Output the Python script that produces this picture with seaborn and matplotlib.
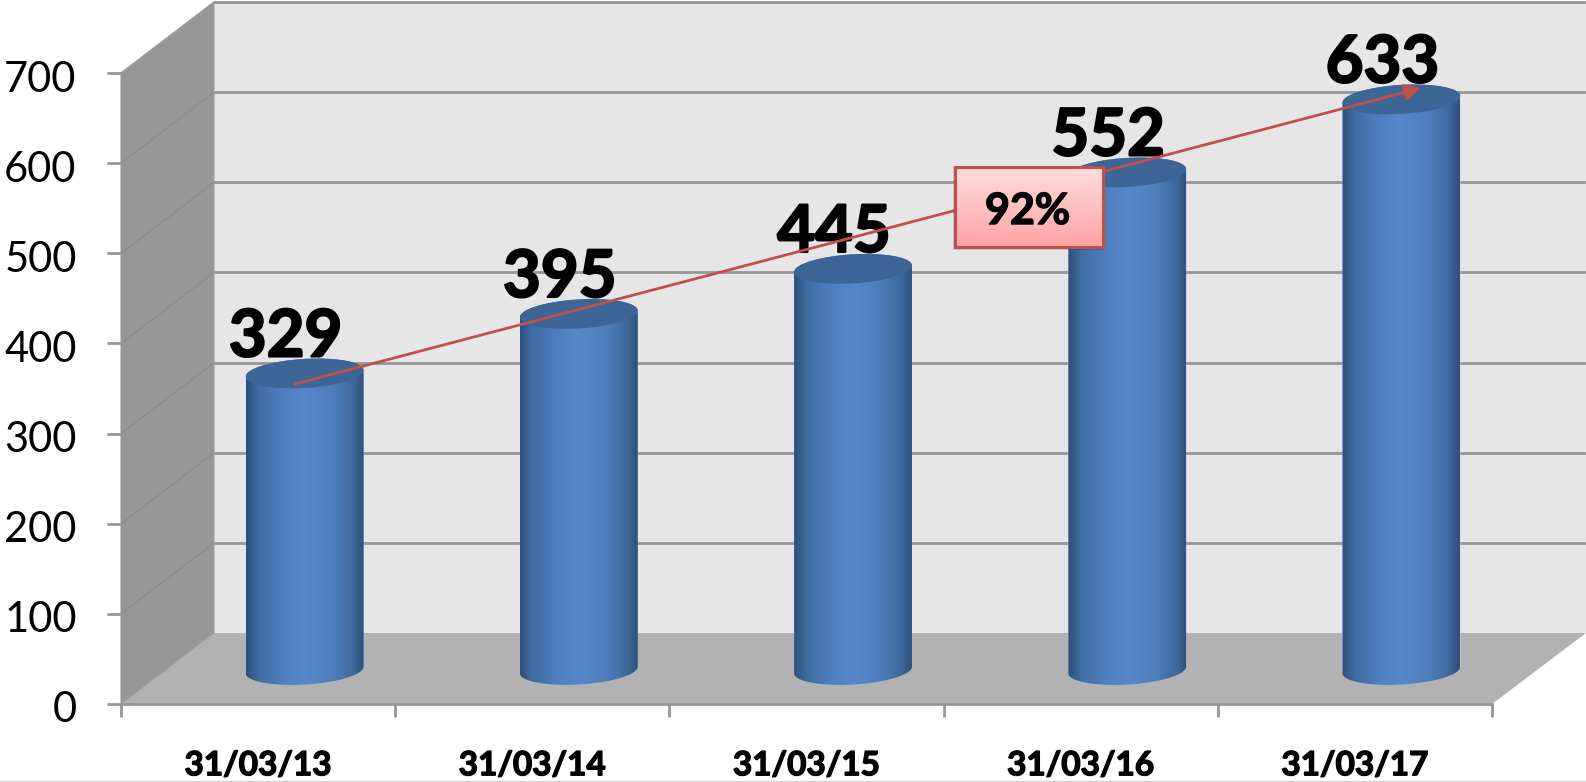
import numpy as np
import matplotlib
matplotlib.use('Agg')
import matplotlib.pyplot as plt
import matplotlib.patheffects as pe
import seaborn as sns
from matplotlib.colors import LinearSegmentedColormap
from matplotlib.patches import Ellipse, Polygon, Rectangle
from matplotlib.path import Path
from matplotlib.transforms import Affine2D, IdentityTransform

# chart data
dates = ['31/03/13', '31/03/14', '31/03/15', '31/03/16', '31/03/17']
values = [329, 395, 445, 552, 633]
y_ticks = [0, 100, 200, 300, 400, 500, 600, 700]
growth = '92%'

W, H = 1586, 782
GRID = '#969696'
RED = '#c0504d'

sns.set_theme(style='white')
plt.rcParams['font.family'] = ['Lato', 'DejaVu Sans']

fig = plt.figure(figsize=(W / 100, H / 100), dpi=100)
ax = fig.add_axes([121 / W, (H - 704) / H, 1371 / W, 631 / H])
ax.patch.set_visible(False)


def px(x, y):
    # reference pixels (origin top left) to display coordinates
    return x, H - y


def deco(points, **kw):
    ax.add_patch(Polygon([px(*p) for p in points], transform=IdentityTransform(),
                         clip_on=False, **kw))


# heavier strokes, the original font is bolder than Lato Bold
heavy = [pe.withStroke(linewidth=1.0, foreground='black')]

# the 3d box behind the bars: side wall, floor, back wall
deco([(121, 73), (214, 2), (214, 633), (121, 704)], fc='#979797', ec='none', zorder=0)
deco([(214, 2), (1586, 2), (1586, 633), (214, 633)], fc='#e6e6e6', ec='none', zorder=0)
deco([(121, 704), (214, 633), (1586, 633), (1492, 704)], fc='#b2b2b2', ec='none', zorder=0)

sns.barplot(x=dates, y=values, color='#4f81bd', width=118 / 274.2, saturation=1, ax=ax, zorder=3)
ax.set_xlim(-0.5, 4.5)
ax.set_ylim(0, 700)

back = ax.transData + Affine2D().translate(93, 71)
mid = ax.transData + Affine2D().translate(46.5, 34)

# gridlines on the back wall and side wall
for t in y_ticks[1:]:
    ax.plot([-0.5, 4.5], [t, t], color=GRID, lw=2.0, transform=back, clip_on=False, zorder=1)
for t in y_ticks[1:]:
    x0, y0 = ax.transData.transform((-0.5, t))
    ax.plot([x0, x0 + 93], [y0, y0 + 71], color='#8a8a8a', lw=0.8,
            transform=IdentityTransform(), clip_on=False, zorder=1)
deco([(121, 704), (214, 633), (214, 2), (121, 73)], fc='none', ec='#a0a0a0', lw=0.8, zorder=1)

# cylinders
body_cmap = LinearSegmentedColormap.from_list('body', [
    (0.0, '#2d4f7c'), (0.1, '#3f6ba2'), (0.28, '#4c7dba'), (0.5, '#5687ca'),
    (0.74, '#4d7eba'), (0.91, '#3f699d'), (1.0, '#2e4f7b')])
gradient = np.linspace(0, 1, 256).reshape(1, -1)
A, B = 59.0, 14.5
TILT = np.deg2rad(3.4)


def ellipse_points(cx, cy, start, stop):
    t = np.deg2rad(np.linspace(start, stop, 60))
    ex = A * np.cos(t)
    ey = B * np.sin(t)
    return np.column_stack([cx + ex * np.cos(TILT) - ey * np.sin(TILT),
                            cy + ex * np.sin(TILT) + ey * np.cos(TILT)])


for bar, v in zip(ax.containers[0], values):
    x, w = bar.get_x(), bar.get_width()
    bx, by = mid.transform((x + w / 2, 0))
    tx, ty = mid.transform((x + w / 2, v))
    outline = Path(np.vstack([ellipse_points(bx, by, 180, 360), ellipse_points(tx, ty, 0, 180)]))
    bar.set_transform(mid)
    bar.set_clip_path(outline, IdentityTransform())
    im = ax.imshow(gradient, extent=(x, x + w, -40, v + 40), aspect='auto', cmap=body_cmap,
                   transform=mid, zorder=3.1)
    im.set_clip_path(outline, IdentityTransform())
    ax.add_patch(Ellipse((tx, ty), 2 * A, 2 * B, angle=np.rad2deg(TILT), fc='#3d6595', ec='none',
                         transform=IdentityTransform(), clip_on=False, zorder=3.2))
    ax.text(x + w / 2, v, str(v), transform=mid + Affine2D().translate(-19, 17), ha='center',
            va='baseline', fontsize=47, fontweight='bold', color='black', zorder=4,
            path_effects=[pe.withStroke(linewidth=1.6, foreground='black')])

ax.set_xlim(-0.5, 4.5)
ax.set_ylim(0, 700)

# growth arrow, drawn over the value labels
ax.annotate('', xy=px(1421, 88), xytext=px(295, 384), xycoords=IdentityTransform(),
            textcoords=IdentityTransform(), zorder=4.5,
            arrowprops=dict(arrowstyle='-|>,head_length=0.7,head_width=0.35', color=RED, lw=2.0,
                            shrinkA=0, shrinkB=0, mutation_scale=14))

# axes, ticks and labels
for side in ['top', 'right']:
    ax.spines[side].set_visible(False)
for side in ['left', 'bottom']:
    ax.spines[side].set_color(GRID)
    ax.spines[side].set_linewidth(2.0)
    ax.spines[side].set_zorder(2)
ax.spines['left'].set_linewidth(0.8)
ax.set_yticks(y_ticks)
ax.set_yticklabels([str(t) for t in y_ticks])
ax.tick_params(axis='y', left=True, length=10, width=2.0, color=GRID, pad=22, labelsize=30,
               labelcolor='black')
for label in ax.get_yticklabels():
    label.set_transform(label.get_transform() + Affine2D().translate(0, -3))
ax.set_xticks(np.arange(-0.5, 5, 1))
ax.set_xticklabels([])
ax.tick_params(axis='x', which='major', bottom=True, length=9.5, width=2.0, color=GRID)
ax.set_xticks(np.arange(5), minor=True)
ax.set_xticklabels(dates, minor=True, fontsize=24, fontweight='bold', color='black',
                   path_effects=heavy)
ax.tick_params(axis='x', which='minor', bottom=False, length=0, pad=34)
ax.set_xlabel('')
ax.set_ylabel('')

# 92% callout with a vertical pink gradient
ax.add_patch(Rectangle(px(953, 250), 152, 83, fc='#000000', alpha=0.13, ec='none',
                       transform=IdentityTransform(), clip_on=False, zorder=5.5))
box = fig.add_axes([955 / W, (H - 247) / H, 148 / W, 80 / H], zorder=5)
box.imshow(np.linspace(0, 1, 128).reshape(-1, 1), aspect='auto',
           cmap=LinearSegmentedColormap.from_list('pink', ['#ffdcdc', '#ffa4a4']))
box.set_xticks([])
box.set_yticks([])
for s in box.spines.values():
    s.set_color(RED)
    s.set_linewidth(2.2)
box.text(0.49, 0.45, growth, transform=box.transAxes, ha='center', va='center', fontsize=31,
         fontweight='bold', color='black', path_effects=heavy)

# thin rule along the bottom edge of the slide
fig.add_artist(plt.Line2D([0, 1], [0.8 / H, 0.8 / H], color='#d4d4d4', lw=1))

fig.savefig('out.png', dpi=100)
